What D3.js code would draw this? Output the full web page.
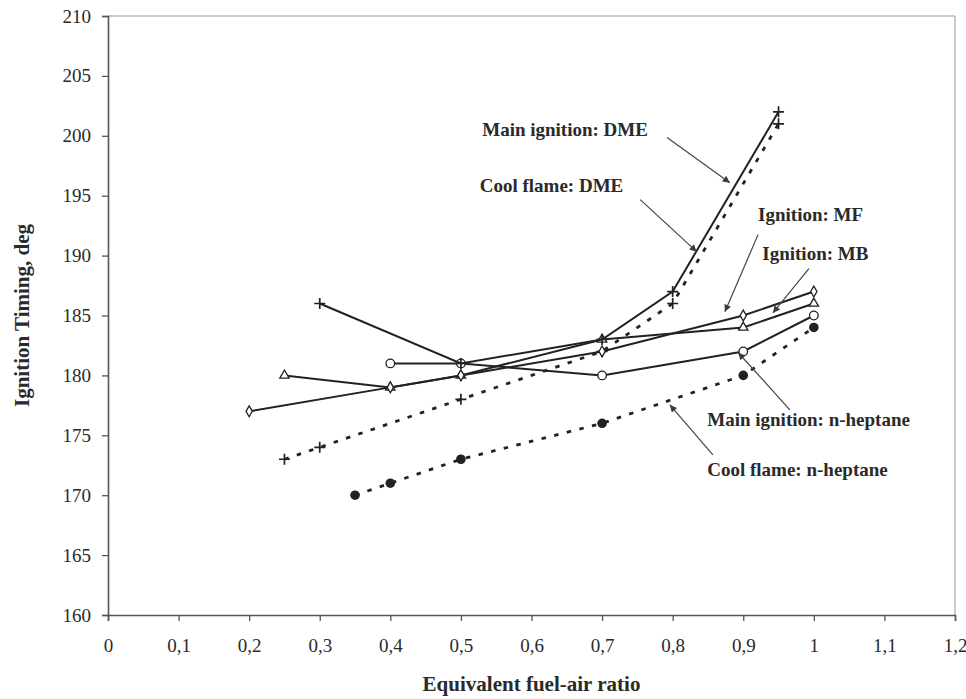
<!DOCTYPE html>
<html>
<head>
<meta charset="utf-8">
<script src="https://cdn.jsdelivr.net/npm/d3@7"></script>
<style>
  body { margin: 0; background: #fff; }
  text { font-family: 'Liberation Serif', 'Times New Roman', serif; fill: #2a2a2a; }
  .tick text { font-size: 19px; }
  .axis-label { font-size: 21px; font-weight: bold; }
  .note { font-size: 19px; font-weight: bold; }
</style>
</head>
<body>
<svg width="966" height="699"></svg>
<script>
const xAxisLabelText = 'Equivalent fuel-air ratio';
const yAxisLabelText = 'Ignition Timing, deg';

const xTicks = [0, 0.1, 0.2, 0.3, 0.4, 0.5, 0.6, 0.7, 0.8, 0.9, 1, 1.1, 1.2];
const xTickLabels = ['0', '0,1', '0,2', '0,3', '0,4', '0,5', '0,6', '0,7', '0,8', '0,9', '1', '1,1', '1,2'];
const yTicks = [160, 165, 170, 175, 180, 185, 190, 195, 200, 205, 210];

// series
const mainDmeX = [0.3, 0.5, 0.7, 0.8, 0.95];
const mainDmeY = [186, 181, 183, 187, 202];
const coolDmeX = [0.25, 0.3, 0.5, 0.7, 0.8, 0.95];
const coolDmeY = [173, 174, 178, 182, 186, 201];
const mfX = [0.2, 0.4, 0.5, 0.7, 0.9, 1.0];
const mfY = [177, 179, 180, 182, 185, 187];
const mbX = [0.25, 0.4, 0.5, 0.7, 0.9, 1.0];
const mbY = [180, 179, 180, 183, 184, 186];
const mainHepX = [0.4, 0.5, 0.7, 0.9, 1.0];
const mainHepY = [181, 181, 180, 182, 185];
const coolHepX = [0.35, 0.4, 0.5, 0.7, 0.9, 1.0];
const coolHepY = [170, 171, 173, 176, 180, 184];

const noteTexts = ['Main ignition: DME', 'Cool flame: DME', 'Ignition: MF', 'Ignition: MB',
  'Main ignition: n-heptane', 'Cool flame: n-heptane'];

const svg = d3.select('svg');
const width = +svg.attr('width');
const height = +svg.attr('height');

const zip = (xs, ys) => xs.map((x, i) => ({ x, y: ys[i] }));

const render = () => {
  const margin = { top: 16, right: 11, bottom: 84, left: 108 };
  const innerWidth = width - margin.left - margin.right;
  const innerHeight = height - margin.top - margin.bottom;

  const xScale = d3.scaleLinear().domain([0, 1.2]).range([0, innerWidth]);
  const yScale = d3.scaleLinear().domain([160, 210]).range([innerHeight, 0]);

  const g = svg.append('g')
    .attr('transform', `translate(${margin.left},${margin.top})`);

  svg.append('defs').append('marker')
      .attr('id', 'head')
      .attr('viewBox', '0 0 10 10')
      .attr('refX', 10).attr('refY', 5)
      .attr('markerWidth', 9).attr('markerHeight', 7)
      .attr('markerUnits', 'userSpaceOnUse')
      .attr('orient', 'auto')
    .append('path')
      .attr('d', 'M0,0L10,5L0,10z')
      .attr('fill', '#3a3a3a');

  // frame
  g.append('path')
      .attr('d', `M0,0H${innerWidth}V${innerHeight}`)
      .attr('fill', 'none')
      .attr('stroke', '#999')
      .attr('stroke-width', 1);

  const xAxis = d3.axisBottom(xScale)
    .tickValues(xTicks)
    .tickFormat((d, i) => xTickLabels[i])
    .tickSizeOuter(0)
    .tickSize(6)
    .tickPadding(18);

  const yAxis = d3.axisLeft(yScale)
    .tickValues(yTicks)
    .tickSizeOuter(0)
    .tickSize(6)
    .tickPadding(11);

  const xAxisG = g.append('g').call(xAxis)
    .attr('transform', `translate(0,${innerHeight})`);
  const yAxisG = g.append('g').call(yAxis);
  [xAxisG, yAxisG].forEach(a => {
    a.select('.domain').attr('stroke', '#555').attr('stroke-width', 1.6);
    a.selectAll('.tick line').attr('stroke', '#555').attr('stroke-width', 1.3);
    a.selectAll('.tick text').attr('fill', '#2a2a2a');
  });

  xAxisG.append('text')
      .attr('class', 'axis-label')
      .attr('x', innerWidth / 2)
      .attr('y', 76)
      .style('text-anchor', 'middle')
      .text(xAxisLabelText);

  yAxisG.append('text')
      .attr('class', 'axis-label')
      .attr('transform', 'rotate(-90)')
      .attr('x', -innerHeight / 2)
      .attr('y', -79)
      .style('text-anchor', 'middle')
      .text(yAxisLabelText);

  const line = d3.line().x(d => xScale(d.x)).y(d => yScale(d.y));
  const ink = '#222';

  const series = [
    { data: zip(coolDmeX, coolDmeY), dashed: true, mark: 'plus' },
    { data: zip(coolHepX, coolHepY), dashed: true, mark: 'dot' },
    { data: zip(mainHepX, mainHepY), dashed: false, mark: 'circle' },
    { data: zip(mbX, mbY), dashed: false, mark: 'triangle' },
    { data: zip(mfX, mfY), dashed: false, mark: 'diamond' },
    { data: zip(mainDmeX, mainDmeY), dashed: false, mark: 'plus' }
  ];

  const symbols = {
    triangle: d3.symbol().type(d3.symbolTriangle).size(38)(),
    diamond: d3.symbol().type(d3.symbolDiamond).size(34)()
  };

  series.forEach(s => {
    g.append('path')
        .datum(s.data)
        .attr('d', line)
        .attr('fill', 'none')
        .attr('stroke', ink)
        .attr('stroke-width', s.dashed ? 2.8 : 2)
        .attr('stroke-dasharray', s.dashed ? '4.5,8.5' : null);

    const pts = g.append('g').selectAll('g').data(s.data).enter().append('g')
        .attr('transform', d => `translate(${xScale(d.x)},${yScale(d.y)})`);

    if (s.mark === 'plus') {
      pts.append('path')
          .attr('d', 'M-5.5,0H5.5M0,-5.5V5.5')
          .attr('stroke', ink)
          .attr('stroke-width', 1.7);
    } else if (s.mark === 'dot') {
      pts.append('circle').attr('r', 4.8).attr('fill', ink);
    } else if (s.mark === 'circle') {
      pts.append('circle').attr('r', 4.3)
          .attr('fill', '#fff').attr('stroke', ink).attr('stroke-width', 1.3);
    } else {
      pts.append('path').attr('d', symbols[s.mark])
          .attr('fill', '#fff').attr('stroke', ink).attr('stroke-width', 1.3);
    }
  });

  // annotations: text position and arrow in data units
  const notes = [
    { tx: 0.765, ty: 200.0, anchor: 'end', from: [0.792, 199.85], to: [0.881, 196.09] },
    { tx: 0.730, ty: 195.3, anchor: 'end', from: [0.754, 194.67], to: [0.834, 190.33] },
    { tx: 0.921, ty: 192.9, anchor: 'start', from: [0.921, 191.75], to: [0.874, 185.31] },
    { tx: 0.927, ty: 189.6, anchor: 'start', from: [0.993, 188.91], to: [0.942, 185.22] },
    { tx: 0.849, ty: 175.8, anchor: 'start', from: [0.966, 177.13], to: [0.893, 181.89] },
    { tx: 0.849, ty: 171.6, anchor: 'start', from: [0.857, 173.37], to: [0.796, 177.54] }
  ];

  notes.forEach((n, i) => {
    g.append('line')
        .attr('x1', xScale(n.from[0])).attr('y1', yScale(n.from[1]))
        .attr('x2', xScale(n.to[0])).attr('y2', yScale(n.to[1]))
        .attr('stroke', '#444')
        .attr('stroke-width', 1.2)
        .attr('marker-end', 'url(#head)');
    g.append('text')
        .attr('class', 'note')
        .attr('x', xScale(n.tx))
        .attr('y', yScale(n.ty))
        .style('text-anchor', n.anchor)
        .text(noteTexts[i]);
  });
};

render();
</script>
</body>
</html>
